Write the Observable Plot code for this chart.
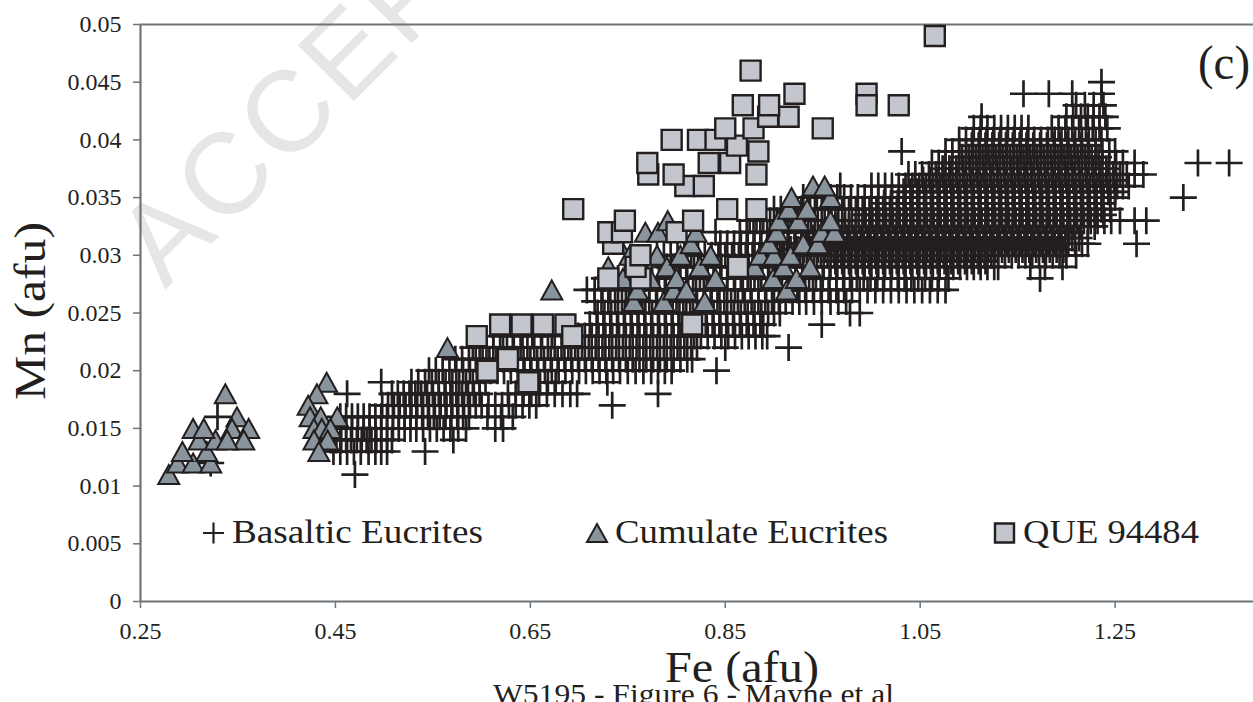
<!DOCTYPE html>
<html><head><meta charset="utf-8">
<script src="https://cdn.jsdelivr.net/npm/d3@7"></script>
<script src="https://cdn.jsdelivr.net/npm/@observablehq/plot@0.6"></script>
<style>
html,body{margin:0;padding:0;background:#fff;}
#chart{position:relative;width:1253px;height:702px;overflow:hidden;}
</style></head><body><div id="chart"></div>
<script>
// ---------- data ----------
const xTicks = [0.25, 0.45, 0.65, 0.85, 1.05, 1.25];
const xTickLabels = ["0.25", "0.45", "0.65", "0.85", "1.05", "1.25"];
const yTicks = [0, 0.005, 0.01, 0.015, 0.02, 0.025, 0.03, 0.035, 0.04, 0.045, 0.05];
const yTickLabels = ["0", "0.005", "0.01", "0.015", "0.02", "0.025", "0.03", "0.035", "0.04", "0.045", "0.05"];
const xDomain = [0.25, 1.392];
const yDomain = [0, 0.05];
const seriesNames = ["Basaltic Eucrites", "Cumulate Eucrites", "QUE 94484"];
const xTitle = "Fe (afu)";
const yTitle = "Mn (afu)";
const panelTag = "(c)";
const caption = "W5195 - Figure 6 - Mayne et al";
const watermark = "ACCEPTED MANUSCRIPT";

// Basaltic eucrites, in thousandths of afu: [Mn, [Fe values]]
const basalticRows = [
  [11, [470]],
  [12, [322]],
  [13, [448,455,462,469,476,484,491,497,503,542]],
  [14, [445,451,456,461,466,472,477,482,487,492,497,503,508,571]],
  [15, [449,455,461,467,473,479,485,491,497,503,509,515,521,527,533,540,547,554,561,568,576,584,614,622]],
  [16, [329,455,461,467,473,479,485,491,497,503,509,515,521,527,533,539,545,551,557,563,569,575,581,587,606,620,632]],
  [17, [498,504,510,516,522,528,534,540,546,552,558,564,570,576,582,588,594,600,607,614,621,628,635,642,649,656,734]],
  [18, [462,508,514,520,526,532,538,544,550,556,562,568,574,580,586,592,598,627,635,643,651,659,667,675,683,691,698,781]],
  [19, [497,528,535,542,549,556,563,570,577,584,591,598,604,645,652,660,668,676,729]],
  [20, [546,553,560,567,574,581,588,595,602,609,616,623,630,637,644,651,658,665,672,679,686,693,700,707,714,721,728,735,742,750,758,766,774,781,788,795,841]],
  [21, [573,580,587,594,601,608,615,622,629,636,643,650,657,664,671,678,685,692,699,706,713,720,727,734,741,748,755,762,769,776,783,790,797,804,811,816]],
  [22, [591,598,605,612,619,626,633,640,647,654,661,668,675,682,689,696,703,710,717,724,731,738,745,752,759,766,773,780,787,794,801,808,815,821,850,915]],
  [23, [612,622,632,642,652,662,672,699,706,713,720,727,734,741,748,755,762,769,776,783,790,797,804,811,818,825,832,839,846,853,860,867,874,881,888,893]],
  [24, [711,718,725,732,739,746,753,760,767,774,781,788,795,802,809,816,823,830,837,844,851,858,865,872,879,886,889,949]],
  [25, [719,726,733,740,747,754,761,768,775,782,789,796,803,810,817,824,831,838,845,852,859,866,873,880,887,894,900,906,978,988]],
  [26, [716,723,730,737,744,751,758,765,772,779,786,793,800,807,814,821,828,835,842,849,856,863,870,877,884,891,898,905,912,919,926,933,941,949,958,966,974]],
  [27, [708,716,724,732,740,748,756,764,772,780,788,796,804,812,820,828,836,844,852,860,868,876,884,892,900,908,916,924,932,940,948,956,964,972,980,988,996,1004,1012,1020,1028,1036,1044,1052,1060,1068,1076]],
  [28, [726,733,740,747,754,761,768,775,782,789,796,803,810,817,824,831,838,845,852,859,866,873,880,887,894,901,908,915,922,929,936,943,950,957,964,971,978,985,992,999,1006,1013,1020,1027,1034,1041,1048,1055,1062,1069,1079,1173]],
  [29, [790,797,804,811,818,825,832,839,846,853,860,867,874,881,888,895,902,909,916,923,930,937,944,951,958,965,972,979,986,993,1000,1007,1014,1021,1028,1035,1042,1049,1056,1063,1070,1077,1084,1091,1098,1105,1112,1119,1126,1130,1163,1178,1196]],
  [29.5, [963,970,977,984,991,998,1005,1012,1019,1026,1033,1040,1047,1054,1061,1068,1075,1082,1089,1096,1103,1110,1117]],
  [30, [780,787,794,801,808,815,822,829,836,843,850,857,864,871,878,885,892,899,906,913,920,927,934,941,948,955,962,969,976,983,990,997,1004,1011,1018,1025,1032,1039,1046,1053,1060,1067,1074,1081,1088,1095,1102,1109,1116,1123,1130,1137,1144,1151,1158,1165,1172,1179,1186,1193,1200,1210]],
  [30.5, [903,910,917,924,931,938,945,952,959,966,973,980,987,994,1001,1008,1015,1022,1029,1036,1043,1050,1057,1064,1071,1078,1085,1092,1099,1106,1113,1120,1127,1134,1141,1148,1155,1162,1169,1176,1183,1190,1197]],
  [31, [845,852,859,866,873,880,887,894,901,908,915,922,929,936,943,950,957,964,971,978,985,992,999,1006,1013,1020,1027,1034,1041,1048,1055,1062,1069,1076,1083,1090,1097,1104,1111,1118,1125,1132,1139,1146,1153,1160,1167,1174,1181,1188,1195,1202,1209,1216,1222,1272]],
  [31.5, [933,940,947,954,961,968,975,982,989,996,1003,1010,1017,1024,1031,1038,1045,1052,1059,1066,1073,1080,1087,1094,1101,1108,1115,1122,1129,1136,1143,1150,1157,1164,1171,1178,1185,1192,1199,1206,1213]],
  [32, [840,865,872,879,886,893,900,907,914,921,928,935,942,949,956,963,970,977,984,991,998,1005,1012,1019,1026,1033,1040,1047,1054,1061,1068,1075,1082,1089,1096,1103,1110,1117,1124,1131,1138,1145,1152,1159,1166,1173,1180,1187,1194,1203]],
  [32.5, [963,970,977,984,991,998,1005,1012,1019,1026,1033,1040,1047,1054,1061,1068,1075,1082,1089,1096,1103,1110,1117,1124,1131,1138,1145,1152,1159,1166,1173,1180,1187,1194,1201,1208,1215,1222,1229]],
  [33, [875,882,889,896,903,910,917,924,931,938,945,952,959,966,973,980,987,994,1001,1008,1015,1022,1029,1036,1043,1050,1057,1064,1071,1078,1085,1092,1099,1106,1113,1120,1127,1134,1141,1148,1155,1162,1169,1176,1183,1190,1197,1204,1211,1218,1225,1232,1239,1246,1255,1270,1282]],
  [33.5, [993,1000,1007,1014,1021,1028,1035,1042,1049,1056,1063,1070,1077,1084,1091,1098,1105,1112,1119,1126,1133,1140,1147,1154,1161,1168,1175,1182,1189,1196,1203,1210,1217,1224,1231,1238]],
  [34, [900,907,914,921,928,935,942,949,956,963,970,977,984,991,998,1005,1012,1019,1026,1033,1040,1047,1054,1061,1068,1075,1082,1089,1096,1103,1110,1117,1124,1131,1138,1145,1152,1159,1166,1173,1180,1187,1194,1201,1208,1215,1222,1229,1236,1245]],
  [34.5, [1013,1020,1027,1034,1041,1048,1055,1062,1069,1076,1083,1090,1097,1104,1111,1118,1125,1132,1139,1146,1153,1160,1167,1174,1181,1188,1195,1202,1209,1216,1223,1230,1237]],
  [35, [930,937,944,951,958,965,972,979,986,993,1000,1007,1014,1021,1028,1035,1042,1049,1056,1063,1070,1077,1084,1091,1098,1105,1112,1119,1126,1133,1140,1147,1154,1161,1168,1175,1182,1189,1196,1203,1210,1217,1224,1231,1238,1245,1250,1320]],
  [35.5, [1033,1040,1047,1054,1061,1068,1075,1082,1089,1096,1103,1110,1117,1124,1131,1138,1145,1152,1159,1166,1173,1180,1187,1194,1201,1208,1215,1222,1229,1236,1243,1250]],
  [36, [968,1000,1007,1014,1021,1028,1035,1042,1049,1056,1063,1070,1077,1084,1091,1098,1105,1112,1119,1126,1133,1140,1147,1154,1161,1168,1175,1182,1189,1196,1203,1210,1217,1224,1231,1238,1245,1252,1258,1264]],
  [36.5, [1053,1060,1067,1074,1081,1088,1095,1102,1109,1116,1123,1130,1137,1144,1151,1158,1165,1172,1179,1186,1193,1200,1207,1214,1221,1228,1235,1242,1249]],
  [37, [1038,1045,1052,1059,1066,1073,1080,1087,1094,1101,1108,1115,1122,1129,1136,1143,1150,1157,1164,1171,1178,1185,1192,1199,1206,1213,1220,1227,1234,1241,1248,1255,1262,1270,1279]],
  [37.5, [1073,1080,1087,1094,1101,1108,1115,1122,1129,1136,1143,1150,1157,1164,1171,1178,1185,1192,1199,1206,1213,1220,1227,1234,1241]],
  [38, [1062,1069,1076,1083,1090,1097,1104,1111,1118,1125,1132,1139,1146,1153,1160,1167,1174,1181,1188,1195,1202,1209,1216,1223,1230,1237,1244,1251,1258,1270,1335,1367]],
  [38.5, [1093,1100,1107,1114,1121,1128,1135,1142,1149,1156,1163,1170,1177,1184,1191,1198,1205,1212,1219,1226,1233]],
  [39, [1031,1076,1083,1090,1097,1104,1111,1118,1125,1132,1139,1146,1153,1160,1167,1174,1181,1188,1195,1202,1209,1216,1223,1230,1237,1244,1250]],
  [39.5, [1103,1110,1117,1124,1131,1138,1145,1152,1159,1166,1173,1180,1187,1194,1201,1208,1215,1222]],
  [40, [1090,1097,1104,1111,1118,1125,1132,1139,1146,1153,1160,1167,1174,1181,1188,1195,1202,1209,1216,1223,1230,1236]],
  [41, [1105,1112,1119,1126,1133,1140,1147,1154,1161,1185,1192,1199,1206,1213,1220,1227,1234,1242]],
  [42, [1113,1200,1207,1215,1222,1228,1234,1240]],
  [43, [1210,1219,1228,1238]],
  [44, [1156,1182,1206,1236]],
  [45, [1236]]
];

// Cumulate eucrites: [Fe, Mn]
const cumulatePoints = [
  [0.279, 0.011], [0.288, 0.012], [0.304, 0.012], [0.322, 0.012], [0.293, 0.013], [0.318, 0.013],
  [0.31, 0.014], [0.327, 0.014], [0.304, 0.015], [0.315, 0.015], [0.337, 0.018], [0.349, 0.016],
  [0.344, 0.015], [0.361, 0.015], [0.356, 0.014], [0.339, 0.014],
  [0.441, 0.019], [0.431, 0.018], [0.422, 0.017], [0.424, 0.016], [0.435, 0.016], [0.452, 0.016],
  [0.428, 0.015], [0.436, 0.015], [0.445, 0.015], [0.428, 0.014], [0.442, 0.014], [0.433, 0.013],
  [0.565, 0.022], [0.672, 0.027],
  [0.73, 0.029], [0.745, 0.028], [0.74, 0.031], [0.752, 0.030], [0.756, 0.026], [0.76, 0.027],
  [0.765, 0.029], [0.773, 0.028], [0.78, 0.030], [0.787, 0.026], [0.79, 0.029], [0.797, 0.027],
  [0.80, 0.028], [0.804, 0.030], [0.81, 0.027], [0.815, 0.031], [0.82, 0.032], [0.824, 0.029],
  [0.829, 0.026], [0.835, 0.030], [0.84, 0.028], [0.768, 0.032], [0.781, 0.032], [0.791, 0.033],
  [0.88, 0.029], [0.886, 0.030], [0.899, 0.028], [0.90, 0.030], [0.91, 0.029], [0.913, 0.027],
  [0.917, 0.030], [0.923, 0.028], [0.937, 0.029], [0.895, 0.031], [0.903, 0.032], [0.905, 0.033],
  [0.93, 0.031], [0.945, 0.031], [0.949, 0.032], [0.962, 0.032], [0.925, 0.033], [0.958, 0.033],
  [0.915, 0.034], [0.934, 0.034], [0.918, 0.035], [0.958, 0.035], [0.94, 0.036], [0.952, 0.036]
];

// QUE 94484: [Fe, Mn]
const quePoints = [
  [0.595, 0.023], [0.619, 0.024], [0.641, 0.024], [0.663, 0.024], [0.686, 0.024], [0.693, 0.023],
  [0.606, 0.020], [0.627, 0.021], [0.648, 0.019], [0.694, 0.034], [0.816, 0.024],
  [0.73, 0.028], [0.763, 0.028], [0.758, 0.029], [0.763, 0.030], [0.863, 0.029],
  [0.735, 0.031], [0.73, 0.032], [0.744, 0.032], [0.80, 0.032], [0.747, 0.033], [0.817, 0.033],
  [0.852, 0.034], [0.882, 0.034], [0.809, 0.036], [0.828, 0.036], [0.771, 0.037], [0.797, 0.037],
  [0.882, 0.037], [0.77, 0.038], [0.833, 0.038], [0.855, 0.038], [0.884, 0.039], [0.862, 0.0395],
  [0.795, 0.040], [0.822, 0.040], [0.84, 0.040], [0.85, 0.041], [0.879, 0.041], [0.95, 0.041],
  [0.894, 0.042], [0.915, 0.042], [0.868, 0.043], [0.895, 0.043], [0.921, 0.044], [0.876, 0.046],
  [0.995, 0.044], [0.995, 0.043], [1.028, 0.043], [1.065, 0.049]
];

// ---------- tables ----------
const basaltic = basalticRows.flatMap(([mn, fes]) => fes.map(fe => ({fe: fe / 1000, mn: mn / 1000})));
const cumulate = cumulatePoints.map(([fe, mn]) => ({fe, mn}));
const que = quePoints.map(([fe, mn]) => ({fe, mn}));

// ---------- styles ----------
const ink = "#231f20";
const axisColor = "#6d757a";
const triFill = "#8a949c";
const sqFill = "#c3c6cd";
const serif = '"Liberation Serif", "Times New Roman", serif';

function plusSymbol(r) {
  return {draw(ctx) { ctx.moveTo(-r, 0); ctx.lineTo(r, 0); ctx.moveTo(0, -r); ctx.lineTo(0, r); }};
}
function triangleSymbol(hw, hh) {
  return {draw(ctx) { ctx.moveTo(0, -hh); ctx.lineTo(hw, hh); ctx.lineTo(-hw, hh); ctx.closePath(); }};
}
function squareSymbol(h) {
  return {draw(ctx) { ctx.moveTo(-h, -h); ctx.lineTo(h, -h); ctx.lineTo(h, h); ctx.lineTo(-h, h); ctx.closePath(); }};
}

const chart = Plot.plot({
  width: 1253,
  height: 702,
  marginLeft: 140,
  marginRight: 0,
  marginTop: 24,
  marginBottom: 101,
  style: {fontFamily: serif, fontSize: "24px", color: ink, background: "#fff", overflow: "hidden"},
  x: {domain: xDomain},
  y: {domain: yDomain},
  marks: [
    Plot.ruleY(yDomain, {stroke: axisColor, strokeWidth: 2}),
    Plot.ruleX([xDomain[0]], {stroke: axisColor, strokeWidth: 2.2}),
    Plot.axisX({ticks: xTicks, tickFormat: d => xTickLabels[xTicks.indexOf(d)], tickSize: 7, tickPadding: 13,
      stroke: axisColor, strokeWidth: 1.5, fill: ink, label: null}),
    Plot.axisY({ticks: yTicks, tickFormat: d => yTickLabels[yTicks.indexOf(d)], tickSize: 7, tickPadding: 12,
      stroke: axisColor, strokeWidth: 1.5, fill: ink, label: null}),
    Plot.dot(basaltic, {x: "fe", y: "mn", symbol: plusSymbol(13.5), r: 5, fill: "none", stroke: ink, strokeWidth: 2.7}),
    Plot.dot(cumulate, {x: "fe", y: "mn", symbol: triangleSymbol(10.5, 9.5), r: 5, fill: triFill, stroke: ink, strokeWidth: 2}),
    Plot.dot(que, {x: "fe", y: "mn", symbol: squareSymbol(10), r: 5, fill: sqFill, stroke: ink, strokeWidth: 2.4})
  ]
});

document.getElementById("chart").appendChild(chart);
const svg = d3.select(chart);

// watermark behind everything
svg.insert("text", "g")
  .attr("transform", "translate(165,290) rotate(-45)")
  .attr("text-anchor", "start")
  .attr("font-family", '"Liberation Sans", Arial, sans-serif')
  .attr("font-size", 115)
  .attr("letter-spacing", 5)
  .attr("fill", "#e6e6e6")
  .text(watermark);

function addText(t, x, y, size, len, transform) {
  const el = svg.append("text")
    .attr("text-anchor", "start")
    .attr("font-family", serif)
    .attr("font-size", size)
    .attr("fill", ink)
    .text(t);
  if (transform) el.attr("transform", transform); else el.attr("x", x).attr("y", y);
  if (len) el.attr("textLength", len).attr("lengthAdjust", "spacingAndGlyphs");
  return el;
}

// axis titles, panel tag, caption
addText(xTitle, 665, 682, 44, 154);
addText(yTitle, 0, 0, 45, 178, "translate(45,400) rotate(-90)");
addText(panelTag, 1198, 79, 48, 52);
addText(caption, 493, 704, 29, 401);

// legend
const legend = [
  {sym: plusSymbol(10.5), cx: 213.5, cy: 533, fill: "none", sw: 2.2, tx: 232, len: 251},
  {sym: triangleSymbol(10, 9), cx: 597, cy: 533, fill: triFill, sw: 2, tx: 615, len: 273},
  {sym: squareSymbol(9.5), cx: 1004.5, cy: 533, fill: sqFill, sw: 2.4, tx: 1023, len: 176}
];
legend.forEach((d, i) => {
  svg.append("path")
    .attr("d", d3.symbol(d.sym, 1)())
    .attr("transform", `translate(${d.cx},${d.cy})`)
    .attr("fill", d.fill).attr("stroke", ink).attr("stroke-width", d.sw);
  addText(seriesNames[i], d.tx, 543, 33, d.len);
});
</script></body></html>
